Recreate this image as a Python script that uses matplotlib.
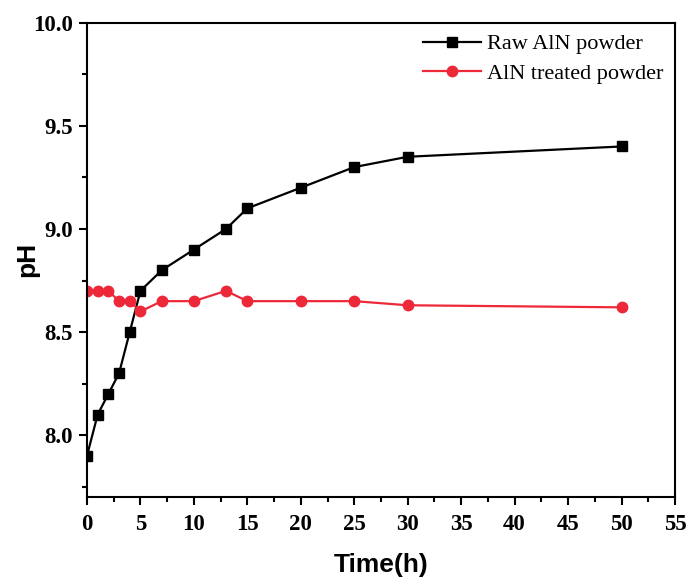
import matplotlib
matplotlib.use('Agg')
import matplotlib.pyplot as plt
from matplotlib.ticker import MultipleLocator

# sampling times (h) and measured pH
time_h = [0, 1, 2, 3, 4, 5, 7, 10, 13, 15, 20, 25, 30, 50]
raw_ph = [7.9, 8.1, 8.2, 8.3, 8.5, 8.7, 8.8, 8.9, 9.0, 9.1, 9.2, 9.3, 9.35, 9.4]
treated_ph = [8.7, 8.7, 8.7, 8.65, 8.65, 8.6, 8.65, 8.65, 8.7, 8.65, 8.65, 8.65, 8.63, 8.62]

serif = ['Liberation Serif', 'DejaVu Serif']
sans = ['Liberation Sans', 'DejaVu Sans']

fig = plt.figure(figsize=(6.87, 5.78), dpi=100)
ax = fig.add_axes([0.1266, 0.140, 0.8559, 0.8207])

ax.plot(time_h, raw_ph, color='black', lw=1.6, marker='s', ms=7,
        label='Raw AlN powder')
ax.plot(time_h, treated_ph, color='#ED2839', lw=1.6, marker='o', ms=7.5,
        label='AlN treated powder')

ax.set_xlim(0, 55)
ax.set_ylim(7.7, 10.0)
ax.xaxis.set_major_locator(MultipleLocator(5))
ax.xaxis.set_minor_locator(MultipleLocator(2.5))
ax.yaxis.set_major_locator(MultipleLocator(0.5))
ax.yaxis.set_minor_locator(MultipleLocator(0.25))
ax.tick_params(which='both', direction='out', width=1.5, top=False, right=False)
ax.tick_params(which='major', length=6)
ax.tick_params(which='minor', length=3.5)
ax.tick_params(axis='x', which='major', pad=6)
ax.tick_params(axis='y', which='major', pad=4)
for s in ax.spines.values():
    s.set_linewidth(1.5)

for lbl in ax.get_xticklabels() + ax.get_yticklabels():
    lbl.set_family(serif)
    lbl.set_fontweight('bold')
    lbl.set_fontsize(16.5)

ax.set_xlabel('Time(h)', family=sans, fontweight='bold', fontsize=19, va='center')
ax.set_ylabel('pH', family=sans, fontweight='bold', fontsize=19, va='center')
ax.xaxis.set_label_coords(0.5, -0.143)
ax.yaxis.set_label_coords(-0.102, 0.5)

ax.legend(loc='upper right', frameon=False, prop={'family': serif, 'size': 16},
          handlelength=2.6, handletextpad=0.3, labelspacing=0.4,
          borderaxespad=0.3, borderpad=0.2)

fig.savefig('out.png', dpi=100)
